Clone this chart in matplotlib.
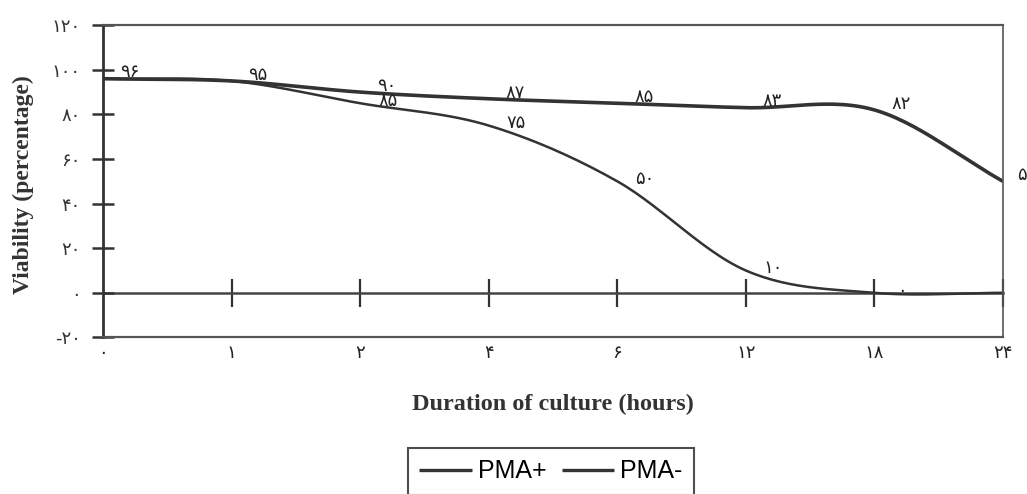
import matplotlib.pyplot as plt
import numpy as np

# x categories (hours), shown with Persian digits
hours = ['0', '1', '2', '4', '6', '12', '18', '24']
hour_labels = ['۰', '۱', '۲', '۴', '۶', '۱۲', '۱۸', '۲۴']

# viability (%)
pma_plus = [96, 95, 90, 87, 85, 83, 82, 50]
pma_minus = [96, 95, 85, 75, 50, 10, 0, 0]

y_ticks = [-20, 0, 20, 40, 60, 80, 100, 120]

FA_DIGITS = str.maketrans('0123456789', '۰۱۲۳۴۵۶۷۸۹')


def fa(v):
    return str(v).translate(FA_DIGITS)


def smooth(x, y, n=30):
    # catmull-rom style smoothing, like the spreadsheet "smoothed line"
    x = np.asarray(x, float)
    y = np.asarray(y, float)
    px = np.concatenate([[2 * x[0] - x[1]], x, [2 * x[-1] - x[-2]]])
    py = np.concatenate([[2 * y[0] - y[1]], y, [2 * y[-1] - y[-2]]])
    xs, ys = [], []
    t = np.linspace(0, 1, n)
    for i in range(1, len(px) - 2):
        for p, out in ((px, xs), (py, ys)):
            p0, p1, p2, p3 = p[i - 1], p[i], p[i + 1], p[i + 2]
            m1 = (p2 - p0) / 2
            m2 = (p3 - p1) / 2
            h00 = 2 * t**3 - 3 * t**2 + 1
            h10 = t**3 - 2 * t**2 + t
            h01 = -2 * t**3 + 3 * t**2
            h11 = t**3 - t**2
            out.append(h00 * p1 + h10 * m1 + h01 * p2 + h11 * m2)
    return np.concatenate(xs), np.concatenate(ys)


fig = plt.figure(figsize=(10.27, 4.94), dpi=100)
ax = fig.add_axes([0.1003, 0.317, 0.8763, 0.632])

x = np.arange(len(hours))
line_col = '#333333'

sx, sy = smooth(x, pma_plus)
ax.plot(sx, sy, color=line_col, lw=2.6, label='PMA+', solid_capstyle='butt')
sx, sy = smooth(x, pma_minus)
ax.plot(sx, sy, color=line_col, lw=1.8, label='PMA-', solid_capstyle='butt')

# value labels, sitting on the curves just right of each point
lab_kw = dict(textcoords='offset points', ha='center', va='center',
              fontsize=13, color='#222222', annotation_clip=False)
for i, v in enumerate(pma_plus):
    dx = 19 if i < len(x) - 1 else 17
    ax.annotate(fa(v), (x[i], v), xytext=(dx, 4.5), **lab_kw)
for i, v in enumerate(pma_minus):
    if v == pma_plus[i]:
        continue
    dx = 20 if i < len(x) - 1 else 19
    ax.annotate(fa(v), (x[i], v), xytext=(dx, 1.5), **lab_kw)

ax.set_xlim(0, len(x) - 1)
ax.set_ylim(-20, 120)
ax.set_xticks(x)
ax.set_xticklabels(hour_labels, fontsize=13)
ax.tick_params(axis='x', length=0, pad=5, colors='#222222')
ax.set_yticks(y_ticks)
ax.set_yticklabels([fa(v) if v >= 0 else '-' + fa(-v) for v in y_ticks],
                   fontsize=13)
ax.tick_params(axis='y', direction='inout', length=16, width=1.8,
               colors='#333333', pad=8)

for s in ['top', 'bottom', 'right']:
    ax.spines[s].set_color('#555555')
    ax.spines[s].set_linewidth(1.6)
ax.spines['right'].set_linewidth(1.2)
ax.spines['left'].set_color('#333333')
ax.spines['left'].set_linewidth(2.0)

# zero line with crossing ticks
zero = ax.secondary_xaxis(0, transform=ax.transData)
zero.set_xticks(x[1:])
zero.set_xticklabels([])
zero.tick_params(direction='inout', length=20, width=1.6, colors='#333333')
zero.spines['bottom'].set_color('#444444')
zero.spines['bottom'].set_linewidth(1.8)

ax.set_ylabel('Viability (percentage)', family='Liberation Serif',
              fontweight='bold', fontsize=17, color='#333333')
ax.yaxis.set_label_coords(-0.088, 0.49)
ax.yaxis.label.set_va('center')
ax.set_xlabel('Duration of culture (hours)', family='Liberation Serif',
              fontweight='bold', fontsize=17.5, color='#333333')
ax.xaxis.set_label_coords(0.5, -0.216)
ax.xaxis.label.set_va('center')

leg = fig.legend(loc='upper center', bbox_to_anchor=(0.5365, 1 - 448 / 494),
                 ncol=2, prop={'family': 'Liberation Sans', 'size': 18},
                 frameon=True, fancybox=False, edgecolor='#222222',
                 handlelength=2.1, handletextpad=0.25, columnspacing=0.6,
                 borderpad=0.45, borderaxespad=0)
leg.get_frame().set_linewidth(1.5)
for h in leg.get_lines():
    h.set_linewidth(2.4)

plt.savefig('out.png', dpi=100)
